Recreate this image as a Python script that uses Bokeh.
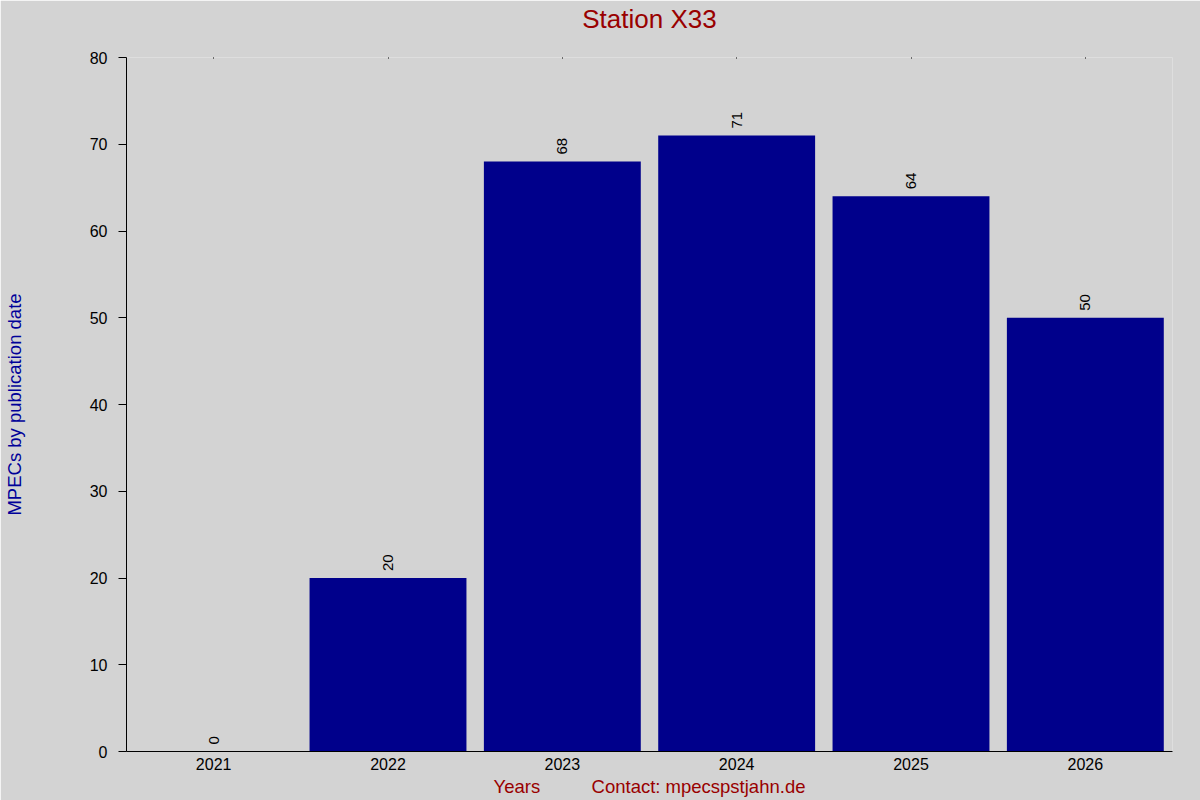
from math import pi
from bokeh.plotting import figure
from bokeh.models import ColumnDataSource, Range1d, FactorRange, FixedTicker, CategoricalAxis
from bokeh.core.properties import value
from bokeh.embed import file_html
from bokeh.resources import INLINE

# ---- data ----
years = ["2021", "2022", "2023", "2024", "2025", "2026"]
counts = [0, 20, 68, 71, 64, 50]
y_ticks = [0, 10, 20, 30, 40, 50, 60, 70, 80]
title_text = "Station X33"
x_label = "Years" + "\u00a0" * 10 + "Contact: mpecspstjahn.de"
y_label = "MPECs by publication date"

BG = "#d3d3d3"
FONT = "Liberation Sans"
BAR = "#00008b"
RED = "#990000"
BLUE = "#000099"

src = ColumnDataSource(dict(year=years, count=counts, label=[str(c) for c in counts]))

p = figure(
    x_range=FactorRange(*years),
    y_range=Range1d(y_ticks[0], y_ticks[-1]),
    width=1200, height=800,
    output_backend="svg", toolbar_location=None,
    min_border_left=126, min_border_right=28,
    min_border_top=56, min_border_bottom=49,
)
p.background_fill_color = BG
p.border_fill_color = BG
p.outline_line_color = None
p.grid.visible = False

p.vbar(x="year", top="count", width=0.9, source=src, fill_color=BAR, line_color=None)
p.text(x="year", y="count", text="label", angle=pi / 2, text_align="left",
       text_baseline="middle", y_offset=-7, text_font=value(FONT),
       text_font_size="15px", text_color="black", source=src)

# bottom x axis
xa = p.below[0]
xa.axis_line_color = "black"
xa.major_tick_out = 0
xa.major_tick_in = 0
xa.minor_tick_out = 0
xa.major_label_standoff = 6
xa.major_label_text_font = FONT
xa.major_label_text_font_size = "16px"
xa.major_label_text_color = "black"
xa.axis_label = x_label
xa.axis_label_text_font = FONT
xa.axis_label_text_font_size = "18.5px"
xa.axis_label_text_font_style = "normal"
xa.axis_label_text_color = RED
xa.axis_label_standoff = 3

# y axis
ya = p.left[0]
ya.ticker = FixedTicker(ticks=y_ticks)
ya.axis_line_color = "black"
ya.major_tick_out = 8
ya.major_tick_in = 0
ya.minor_tick_out = 0
ya.minor_tick_in = 0
ya.major_label_standoff = 11
ya.major_label_text_font = FONT
ya.major_label_text_font_size = "16px"
ya.major_label_text_color = "black"
ya.axis_label = y_label
ya.axis_label_text_font = FONT
ya.axis_label_text_font_size = "18.5px"
ya.axis_label_text_font_style = "normal"
ya.axis_label_text_color = BLUE
ya.axis_label_standoff = 62

# top axis: tiny tick dots at the frame's top edge, carries the chart title
top = CategoricalAxis(
    axis_line_color=None, major_tick_in=1, major_tick_out=0,
    major_label_text_color=None, major_label_text_font_size="16px",
    major_label_standoff=0,
    axis_label=title_text, axis_label_standoff=24,
    axis_label_text_font=FONT, axis_label_text_font_size="26px",
    axis_label_text_font_style="normal", axis_label_text_color=RED,
)
p.add_layout(top, "above")

open("out.html", "w").write(file_html(p, INLINE))
